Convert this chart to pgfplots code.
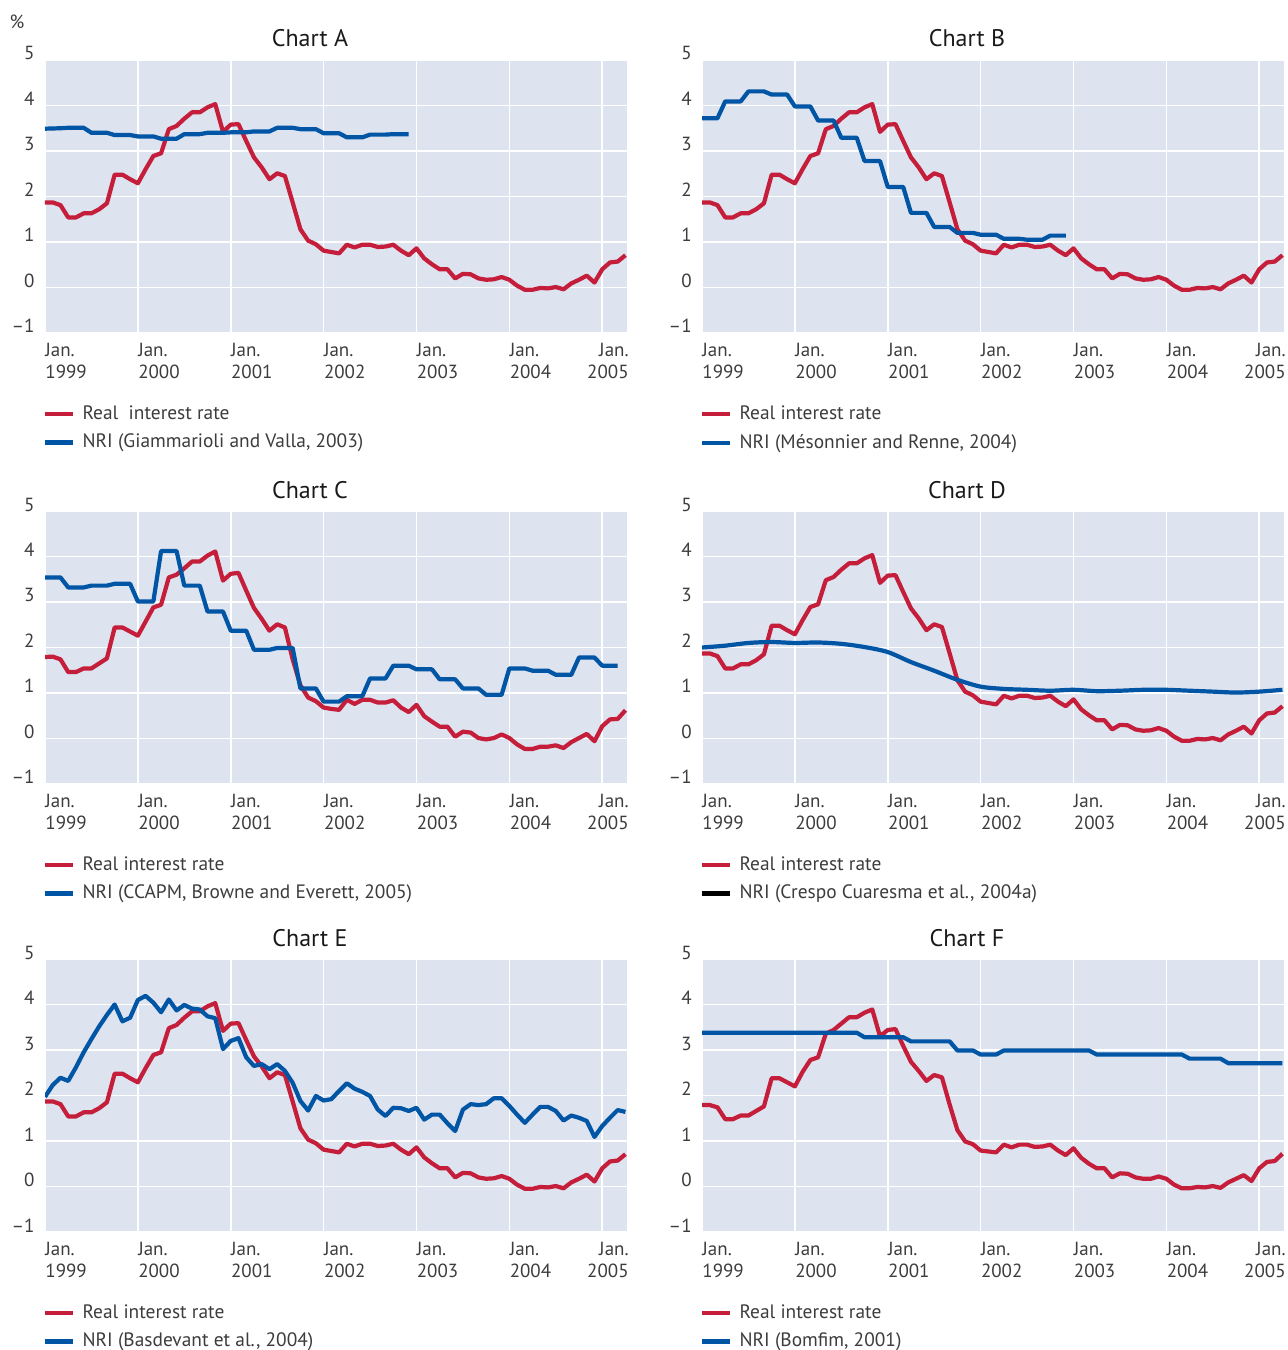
\documentclass[border=0pt]{standalone}
\usepackage{pgfplots}
\pgfplotsset{compat=1.18}
\usepackage{pgfplotstable}
\usepackage{fontspec}
\setmainfont{PT Sans}
\definecolor{bgc}{RGB}{222,227,240}
\definecolor{redc}{RGB}{196,30,58}
\definecolor{bluec}{RGB}{0,85,164}
\definecolor{txt}{RGB}{60,60,60}

\newcommand\jl[1]{\begin{tabular}[t]{@{}l@{}}Jan.\\#1\end{tabular}}
\newcommand\jr[1]{\hspace*{13pt}\llap{\begin{tabular}[t]{@{}r@{}}Jan.\\#1\end{tabular}}}

\pgfplotstableread{
m a c f
0 1.87 1.79 1.79
1 1.87 1.80 1.79
2 1.81 1.74 1.74
3 1.54 1.46 1.48
4 1.54 1.46 1.48
5 1.63 1.54 1.56
6 1.63 1.54 1.56
7 1.72 1.65 1.66
8 1.85 1.76 1.76
9 2.48 2.44 2.38
10 2.48 2.44 2.38
11 2.38 2.35 2.29
12 2.29 2.26 2.20
13 2.60 2.57 2.52
14 2.89 2.88 2.78
15 2.95 2.94 2.84
16 3.48 3.54 3.36
17 3.55 3.60 3.44
18 3.71 3.74 3.58
19 3.85 3.89 3.72
20 3.85 3.89 3.72
21 3.96 4.02 3.82
22 4.03 4.11 3.89
23 3.42 3.47 3.30
24 3.58 3.62 3.44
25 3.59 3.64 3.46
26 3.22 3.25 3.09
27 2.86 2.87 2.74
28 2.64 2.63 2.54
29 2.38 2.37 2.32
30 2.51 2.51 2.45
31 2.45 2.44 2.40
32 1.87 1.74 1.80
33 1.28 1.17 1.24
34 1.03 0.90 0.99
35 0.95 0.82 0.93
36 0.81 0.68 0.79
37 0.78 0.65 0.77
38 0.75 0.63 0.75
39 0.94 0.85 0.92
40 0.88 0.76 0.86
41 0.94 0.85 0.92
42 0.94 0.85 0.92
43 0.89 0.79 0.87
44 0.90 0.79 0.88
45 0.94 0.84 0.92
46 0.81 0.68 0.79
47 0.71 0.58 0.69
48 0.86 0.74 0.84
49 0.64 0.49 0.63
50 0.51 0.37 0.50
51 0.40 0.26 0.40
52 0.40 0.26 0.40
53 0.20 0.04 0.20
54 0.30 0.15 0.29
55 0.29 0.13 0.28
56 0.20 0.01 0.20
57 0.17 -0.02 0.17
58 0.18 0.01 0.17
59 0.23 0.09 0.22
60 0.17 0.01 0.17
61 0.04 -0.13 0.04
62 -0.05 -0.23 -0.04
63 -0.05 -0.23 -0.04
64 -0.01 -0.18 -0.01
65 -0.02 -0.18 -0.02
66 0.01 -0.15 0.01
67 -0.04 -0.21 -0.03
68 0.09 -0.08 0.09
69 0.17 0.01 0.17
70 0.26 0.10 0.25
71 0.11 -0.06 0.12
72 0.40 0.27 0.40
73 0.55 0.42 0.54
74 0.57 0.43 0.56
75 0.71 0.62 0.72
}\realtab

\pgfplotstableread{
m v
0 3.49
2 3.50
3 3.51
5 3.51
6 3.40
8 3.40
9 3.35
11 3.35
12 3.32
14 3.32
15 3.27
17 3.27
18 3.37
20 3.37
21 3.40
23 3.40
24 3.41
26 3.41
27 3.43
29 3.43
30 3.51
32 3.51
33 3.48
35 3.48
36 3.39
38 3.39
39 3.30
41 3.30
42 3.36
44 3.36
45 3.37
47 3.37
}\nriA

\pgfplotstableread{
m v
0 3.72
2 3.72
3 4.09
5 4.09
6 4.31
8 4.31
9 4.24
11 4.24
12 3.98
14 3.98
15 3.67
17 3.67
18 3.29
20 3.29
21 2.78
23 2.78
24 2.21
26 2.21
27 1.64
29 1.64
30 1.33
32 1.33
33 1.20
35 1.20
36 1.16
38 1.16
39 1.07
41 1.07
42 1.05
44 1.05
45 1.14
47 1.14
}\nriB

\pgfplotstableread{
m v
0 3.54
2 3.54
3 3.32
5 3.32
6 3.36
8 3.36
9 3.40
11 3.40
12 3.01
14 3.01
15 4.12
17 4.12
18 3.36
20 3.36
21 2.79
23 2.79
24 2.37
26 2.37
27 1.95
29 1.95
30 1.99
32 1.99
33 1.10
35 1.10
36 0.81
38 0.81
39 0.93
41 0.93
42 1.32
44 1.32
45 1.60
47 1.60
48 1.52
50 1.52
51 1.30
53 1.30
54 1.10
56 1.10
57 0.96
59 0.96
60 1.54
62 1.54
63 1.49
65 1.49
66 1.40
68 1.40
69 1.78
71 1.78
72 1.60
74 1.60
}\nriC

\pgfplotstableread{
m v
0 2.00
3 2.04
6 2.10
9 2.12
12 2.10
15 2.11
18 2.08
21 2.01
24 1.90
27 1.68
30 1.49
33 1.29
36 1.14
39 1.09
42 1.07
45 1.05
48 1.07
51 1.04
54 1.05
57 1.07
60 1.07
63 1.05
66 1.03
69 1.01
72 1.03
75 1.07
}\nriD

\pgfplotstableread{
m v
0 1.97
1 2.23
2 2.39
3 2.32
4 2.62
5 2.95
6 3.24
7 3.52
8 3.77
9 4.00
10 3.63
11 3.71
12 4.10
13 4.19
14 4.04
15 3.83
16 4.11
17 3.87
18 3.99
19 3.91
20 3.89
21 3.74
22 3.70
23 3.02
24 3.20
25 3.26
26 2.84
27 2.65
28 2.69
29 2.58
30 2.69
31 2.54
32 2.28
33 1.88
34 1.67
35 1.99
36 1.89
37 1.92
38 2.10
39 2.27
40 2.15
41 2.08
42 1.99
43 1.69
44 1.55
45 1.73
46 1.72
47 1.66
48 1.73
49 1.47
50 1.58
51 1.58
52 1.39
53 1.22
54 1.69
55 1.81
56 1.79
57 1.81
58 1.94
59 1.94
60 1.77
61 1.58
62 1.40
63 1.58
64 1.75
65 1.75
66 1.66
67 1.45
68 1.56
69 1.51
70 1.44
71 1.09
72 1.33
73 1.51
74 1.68
75 1.64
}\nriE

\pgfplotstableread{
m v
0 3.38
20 3.38
21 3.28
26 3.28
27 3.19
32 3.19
33 2.99
35 2.99
36 2.90
38 2.90
39 2.99
50 2.99
51 2.90
62 2.90
63 2.81
67 2.81
68 2.71
75 2.71
}\nriF

\tikzset{
  ttl/.style={anchor=base, xshift=-13pt, yshift=6.5pt,
      font=\fontsize{12}{14}\selectfont, text=black!90},
}

\pgfplotsset{
  panel/.style={
    scale only axis, width=291pt, height=136.5pt,
    clip mode=individual,
    xmin=0, xmax=75.2, ymin=-1, ymax=5,
    xtick={0,12,...,72},
    xticklabels={\jl{1999},\jl{2000},\jl{2001},\jl{2002},\jl{2003},\jl{2004},\jr{2005}},
    ytick={-1,0,...,5},
    yticklabels={\textendash1,0,1,2,3,4,5},
    grid=major,
    major grid style={white, line width=0.8pt},
    axis line style={draw=none},
    major tick length=0pt,
    axis background/.style={fill=bgc},
    tick label style={font=\fontsize{9.5}{11}\selectfont, text=txt},
    xticklabel style={anchor=north west, inner sep=0pt, yshift=-4pt},
    yticklabel style={anchor=base east, inner sep=0pt, xshift=-5pt},
    every axis plot/.append style={line width=2.1pt, line join=round},
    legend image code/.code={\draw[#1, line width=2.1pt] (0pt,0pt) -- (14pt,0pt);},
    legend cell align=left,
    legend style={at={(0,0)}, anchor=north west, xshift=-1.5pt, yshift=-36pt,
      draw=none, fill=none, inner sep=0pt, row sep=6pt, column sep=4pt,
      font=\fontsize{9.7}{11}\selectfont, text=txt,
      nodes={inner sep=0pt}},
  },
}

\begin{document}
\begin{tikzpicture}
\useasboundingbox (0,0) rectangle (643.5pt,675pt);

% Chart A
\begin{axis}[panel, at={(22.5pt,508.5pt)}, anchor=south west]
\addplot[redc] table[x=m, y=a] {\realtab};
\addlegendentry{Real~~interest rate}
\addplot[bluec] table[x=m, y=v] {\nriA};
\addlegendentry{NRI (Giammarioli and Valla, 2003)}
\node[ttl] at (axis description cs:0.5,1) {Chart A};
\node[anchor=base, font=\fontsize{9.5}{11}\selectfont, text=txt] at (axis description cs:-0.048,1.117) {\%};
\end{axis}

% Chart B
\begin{axis}[panel, at={(351pt,508.5pt)}, anchor=south west]
\addplot[redc] table[x=m, y=a] {\realtab};
\addlegendentry{Real interest rate}
\addplot[bluec] table[x=m, y=v] {\nriB};
\addlegendentry{NRI (Mésonnier and Renne, 2004)}
\node[ttl] at (axis description cs:0.5,1) {Chart B};
\end{axis}

% Chart C
\begin{axis}[panel, at={(22.5pt,283pt)}, anchor=south west]
\addplot[redc] table[x=m, y=c] {\realtab};
\addlegendentry{Real interest rate}
\addplot[bluec] table[x=m, y=v] {\nriC};
\addlegendentry{NRI (CCAPM, Browne and Everett, 2005)}
\node[ttl] at (axis description cs:0.5,1) {Chart C};
\end{axis}

% Chart D
\begin{axis}[panel, at={(351pt,283pt)}, anchor=south west]
\addplot[redc] table[x=m, y=a] {\realtab};
\addlegendentry{Real interest rate}
\addplot[bluec, smooth, forget plot] table[x=m, y=v] {\nriD};
\addlegendimage{black, line width=2.1pt}
\addlegendentry{NRI (Crespo Cuaresma et al., 2004a)}
\node[ttl] at (axis description cs:0.5,1) {Chart D};
\end{axis}

% Chart E
\begin{axis}[panel, at={(22.5pt,59pt)}, anchor=south west]
\addplot[redc] table[x=m, y=a] {\realtab};
\addlegendentry{Real interest rate}
\addplot[bluec] table[x=m, y=v] {\nriE};
\addlegendentry{NRI (Basdevant et al., 2004)}
\node[ttl] at (axis description cs:0.5,1) {Chart E};
\end{axis}

% Chart F
\begin{axis}[panel, at={(351pt,59pt)}, anchor=south west]
\addplot[redc] table[x=m, y=f] {\realtab};
\addlegendentry{Real interest rate}
\addplot[bluec] table[x=m, y=v] {\nriF};
\addlegendentry{NRI (Bomfim, 2001)}
\node[ttl] at (axis description cs:0.5,1) {Chart F};
\end{axis}
\end{tikzpicture}
\end{document}
